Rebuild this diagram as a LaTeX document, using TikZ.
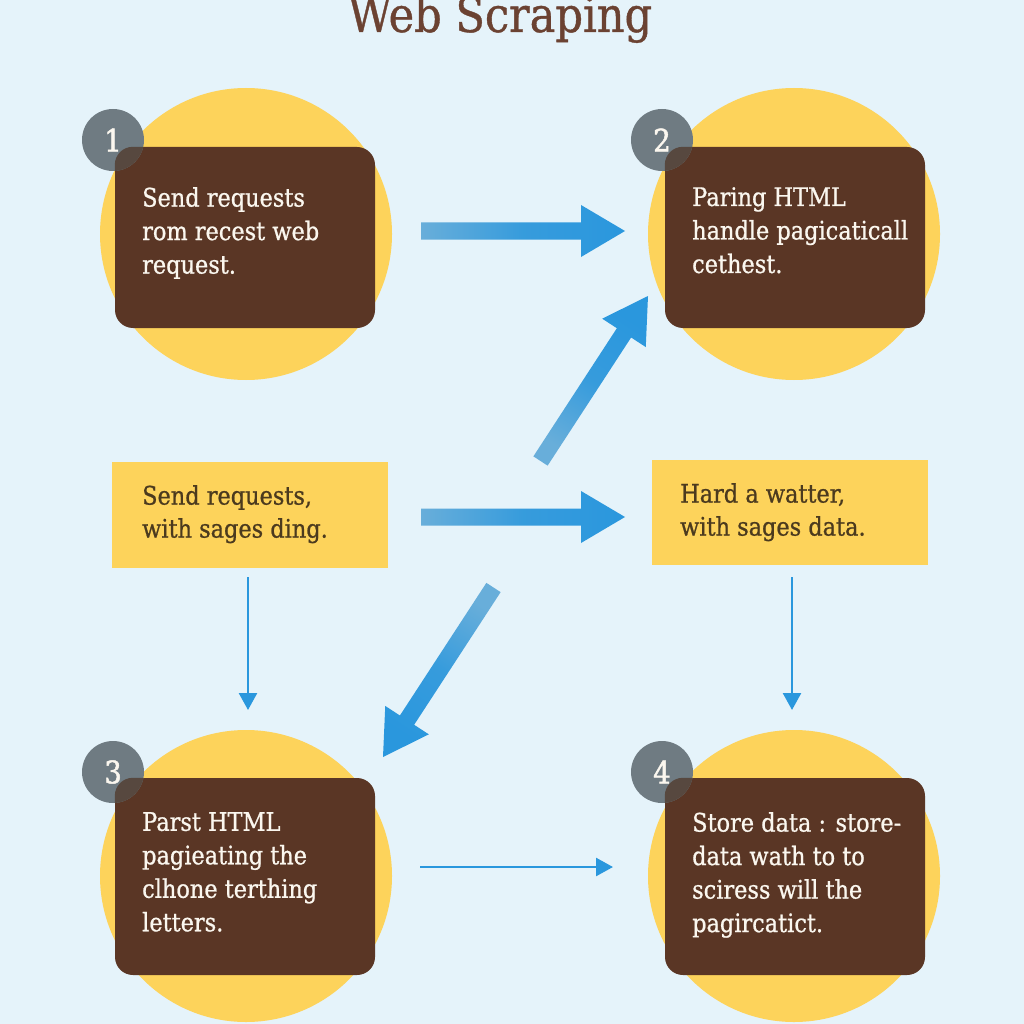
\documentclass[tikz,border=0pt]{standalone}
\usepackage{fontspec}
\setmainfont{DejaVu Serif}[FakeStretch=0.88, FakeBold=0.8]
\newfontfamily\numfont{DejaVu Serif}[FakeStretch=0.9, FakeBold=1.5]
\usetikzlibrary{calc,arrows.meta}
\definecolor{bgc}{HTML}{E5F3FA}
\definecolor{yel}{HTML}{FDD35B}
\definecolor{brn}{HTML}{5A3625}
\definecolor{badgec}{HTML}{6F7B82}
\definecolor{ovl}{HTML}{57483F}
\definecolor{titlec}{HTML}{6B4232}
\definecolor{blued}{HTML}{2A97DD}
\definecolor{bluel}{HTML}{68AEDA}
\definecolor{wtext}{HTML}{FBF7EF}
\definecolor{ytext}{HTML}{4B3A1E}
\newcommand\fatarrow[3]{%
  \path coordinate (hb) at ($(#2)!44pt!(#1)$);
  \shade[bottom color=bluel, top color=blued, middle color=blued!80!bluel, shading angle=#3]
    ($(#1)!8.5pt!90:(#2)$) -- ($(hb)!8.5pt!90:(#2)$) -- ($(hb)!26pt!90:(#2)$) -- (#2)
    -- ($(hb)!26pt!-90:(#2)$) -- ($(hb)!8.5pt!-90:(#2)$) -- ($(#1)!8.5pt!-90:(#2)$) -- cycle;}
\begin{document}
\begin{tikzpicture}[x=1pt,y=-1pt,
  disc/.style={circle, fill=yel, minimum size=292pt, inner sep=0pt},
  bbox/.style={rectangle, rounded corners=18pt, fill=brn, minimum width=260pt, inner sep=0pt},
  badge/.style={circle, fill=badgec, minimum size=62pt, inner sep=0pt, text=wtext,
    font=\numfont\fontsize{31}{36}\selectfont},
  btext/.style={anchor=north west, inner sep=0pt, align=left, text=wtext,
    font=\fontsize{25.5}{33.5}\selectfont},
  ybox/.style={rectangle, fill=yel, minimum width=276pt, minimum height=106pt, inner sep=0pt},
  ytxt/.style={anchor=north west, inner sep=0pt, align=left, text=ytext,
    font=\fontsize{25.5}{33}\selectfont},
  thinarrow/.style={draw=blued, line width=2.6pt, -{Triangle[length=17pt,width=18pt]}}]
\useasboundingbox (0,0) rectangle (1024,1024);
\fill[bgc] (0,0) rectangle (1024,1024);

% title
\node[anchor=base, text=titlec, inner sep=0pt, font=\fontsize{49}{58}\selectfont] (title) at (500,32) {Web Scraping};

% discs
\node[disc] (c1) at (246,234) {};
\node[disc] (c2) at (794,234) {};
\node[disc] (c3) at (246,876) {};
\node[disc] (c4) at (794,876) {};

% brown boxes
\node[bbox, minimum height=181pt] (b1) at (245,237.5) {};
\node[bbox, minimum height=181pt] (b2) at (795,237.5) {};
\node[bbox, minimum height=197pt] (b3) at (245,876.5) {};
\node[bbox, minimum height=197pt] (b4) at (795,876.5) {};

% badges
\node[badge, path picture={\fill[ovl, rounded corners=18pt] (b1.north west) rectangle (b1.south east);}] (n1) at (113,140) {1};
\node[badge, path picture={\fill[ovl, rounded corners=18pt] (b2.north west) rectangle (b2.south east);}] (n2) at (662,140) {2};
\node[badge, path picture={\fill[ovl, rounded corners=18pt] (b3.north west) rectangle (b3.south east);}] (n3) at (113,772) {3};
\node[badge, path picture={\fill[ovl, rounded corners=18pt] (b4.north west) rectangle (b4.south east);}] (n4) at (662,772) {4};

% box texts
\node[btext] (t1) at (142,187) {Send requests\\rom recest web\\request.};
\node[btext] (t2) at (692,187) {Paring HTML\\handle pagicaticall\\cethest.};
\node[btext] (t3) at (142,812) {Parst HTML\\pagieating the\\clhone terthing\\letters.};
\node[btext] (t4) at (692,812) {Store data : store-\\data wath to to\\sciress will the\\pagircatict.};

% yellow boxes
\node[ybox] (y1) at (250,515) {};
\node[ybox, minimum height=105pt] (y2) at (790,512.5) {};
\node[ytxt] (yt1) at (142,485) {Send requests,\\with sages ding.};
\node[ytxt] (yt2) at (680,483) {Hard a watter,\\with sages data.};

% arrow end points
\coordinate (a1s) at (421,231);
\coordinate (a1e) at (625,231);
\coordinate (a2s) at (540.5,461);
\coordinate (a2e) at (648,296);
\coordinate (a3s) at (421,517);
\coordinate (a3e) at (625,517);
\coordinate (a4s) at (493.5,587.5);
\coordinate (a4e) at (383,757);
\coordinate (l1s) at (248,577);
\coordinate (l1e) at (248,710);
\coordinate (l2s) at (792,577);
\coordinate (l2e) at (792,710);
\coordinate (l3s) at (420,867);
\coordinate (l3e) at (613,867);

% fat arrows
\fatarrow{a1s}{a1e}{-90}
\fatarrow{a2s}{a2e}{-33.1}
\fatarrow{a3s}{a3e}{-90}
\fatarrow{a4s}{a4e}{146.9}

% thin arrows
\draw[thinarrow] (l1s) -- (l1e);
\draw[thinarrow] (l2s) -- (l2e);
\draw[thinarrow] (l3s) -- (l3e);
\end{tikzpicture}
\end{document}
